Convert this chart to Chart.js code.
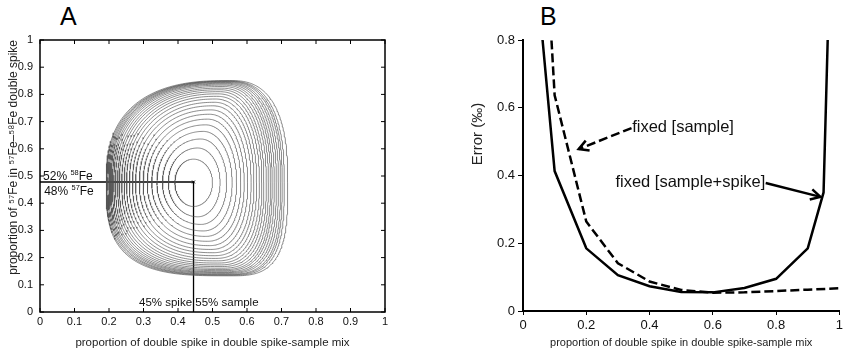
<!DOCTYPE html>
<html><head><meta charset="utf-8">
<script src="https://cdn.jsdelivr.net/npm/chart.js@4.4.1/dist/chart.umd.min.js"></script>
<style>
html,body{margin:0;padding:0;background:#fff;width:846px;height:355px;overflow:hidden}
#a{position:absolute;left:0;top:0}
#b{position:absolute;left:423px;top:0}
.lbl{position:absolute;font-family:"Liberation Sans",Arial,sans-serif;font-size:25px;line-height:1;color:#000}
</style></head><body>
<div class="lbl" style="left:60px;top:4px">A</div>
<div class="lbl" style="left:540px;top:4px">B</div>
<canvas id="a" width="423" height="355"></canvas>
<canvas id="b" width="423" height="355"></canvas>
<script>
const FONT = '"Liberation Sans", Arial, Helvetica, sans-serif';

// ---------- Panel A: contour extents (inner -> outer) ----------
const cLeft   = [0.391,0.372,0.355,0.339,0.324,0.311,0.299,0.288,0.277,0.268,0.259,0.251,0.244,0.237,0.230,0.225,0.219,0.214,0.210,0.206,0.203,0.200,0.197,0.194,0.192];
const cRight  = [0.500,0.522,0.541,0.557,0.570,0.582,0.592,0.602,0.612,0.620,0.628,0.636,0.643,0.649,0.656,0.662,0.668,0.673,0.679,0.685,0.691,0.697,0.702,0.708,0.718];
const cTop    = [0.562,0.603,0.636,0.664,0.688,0.709,0.727,0.743,0.758,0.771,0.783,0.793,0.802,0.810,0.817,0.823,0.829,0.834,0.838,0.841,0.844,0.846,0.848,0.849,0.851];
const cBottom = [0.388,0.350,0.322,0.298,0.278,0.260,0.244,0.230,0.218,0.207,0.197,0.188,0.180,0.173,0.167,0.161,0.156,0.152,0.148,0.145,0.142,0.139,0.137,0.135,0.133];
const cMidX   = [0.445,0.457,0.466,0.473,0.480,0.486,0.491,0.495,0.501,0.505,0.508,0.512,0.515,0.519,0.522,0.525,0.528,0.530,0.533,0.536,0.538,0.542,0.544,0.547,0.550];
const cSquareTop = [2.0,2.01,2.02,2.04,2.07,2.09,2.11,2.14,2.17,2.19,2.22,2.25,2.27,2.29,2.32,2.35,2.37,2.40,2.43,2.46,2.47,2.51,2.53,2.56,2.6];
const cSquareBot = [2.0,2.01,2.05,2.09,2.13,2.18,2.23,2.28,2.34,2.38,2.43,2.49,2.54,2.59,2.64,2.70,2.74,2.79,2.85,2.91,2.95,3.02,3.06,3.13,3.2];
const cMidY = 0.476;
const optimumX = 0.445, optimumY = 0.478;
const ticksA = [0,0.1,0.2,0.3,0.4,0.5,0.6,0.7,0.8,0.9,1];

// ---------- Panel B: error curves ----------
const mixSampleSpike = [0.05,0.1,0.2,0.3,0.4,0.5,0.6,0.7,0.8,0.9,0.95,0.97];
const errSampleSpike = [0.92,0.413,0.185,0.106,0.073,0.056,0.055,0.068,0.095,0.185,0.35,1.04];
const mixSample = [0.05,0.1,0.2,0.3,0.4,0.5,0.6,0.7,0.8,0.9,1.0];
const errSample = [1.45,0.637,0.264,0.141,0.087,0.062,0.054,0.055,0.059,0.063,0.067];

function contourPath(i){
  const pts=[]; const N=280;
  for(let k=0;k<=N;k++){
    const th=2*Math.PI*k/N, c=Math.cos(th), s=Math.sin(th);
    const n = s>=0 ? cSquareTop[i] : cSquareBot[i];
    const e = 2/n;
    const ax = c>=0 ? cRight[i]-cMidX[i] : cMidX[i]-cLeft[i];
    const by = s>=0 ? cTop[i]-cMidY : cMidY-cBottom[i];
    pts.push({x:cMidX[i]+ax*Math.sign(c)*Math.pow(Math.abs(c),e), y:cMidY+by*Math.sign(s)*Math.pow(Math.abs(s),e)});
  }
  return pts;
}
const fmt = v => { const r=Math.round(v*10)/10; return r===0?'0':(r===1?'1':r.toFixed(1)); };

const dsA = cLeft.map((_,i)=>({data:contourPath(i), showLine:true, borderColor:'#4d4d4d', borderWidth:0.65, pointRadius:0, tension:0}));
dsA.push({data:[{x:0,y:optimumY},{x:optimumX,y:optimumY},{x:optimumX,y:0}], showLine:true, borderColor:'#000', borderWidth:1.3, pointRadius:0, tension:0});
dsA.push({data:[{x:optimumX,y:optimumY}], showLine:false, pointStyle:'crossRot', pointRadius:2, borderColor:'#000', borderWidth:1});

function supText(ctx, x, y, parts, size){
  let cx=x;
  for(const [t,sup] of parts){
    ctx.font = (sup? (size*0.62):size)+'px '+FONT;
    ctx.fillText(t, cx, sup ? y-size*0.38 : y);
    cx += ctx.measureText(t).width;
  }
}

const plugA = {id:'pa', afterDatasetsDraw(chart){
  const {ctx, chartArea:{left,right,top,bottom}, scales:{x,y}} = chart;
  ctx.save();
  ctx.strokeStyle='#000'; ctx.lineWidth=1.5;
  ctx.strokeRect(left,top,right-left,bottom-top);
  ctx.lineWidth=1;
  ctx.beginPath();
  for(const v of ticksA){
    const px=x.getPixelForValue(v), py=y.getPixelForValue(v);
    ctx.moveTo(px,bottom); ctx.lineTo(px,bottom-4);
    ctx.moveTo(px,top); ctx.lineTo(px,top+4);
    ctx.moveTo(left,py); ctx.lineTo(left+4,py);
    ctx.moveTo(right,py); ctx.lineTo(right-4,py);
  }
  ctx.stroke();
  ctx.fillStyle='#111'; ctx.textBaseline='alphabetic'; ctx.textAlign='left';
  supText(ctx, x.getPixelForValue(0.009), y.getPixelForValue(0.487), [['52% ',false],['58',true],['Fe',false]], 12);
  supText(ctx, x.getPixelForValue(0.012), y.getPixelForValue(0.43), [['48% ',false],['57',true],['Fe',false]], 12);
  ctx.font='11.5px '+FONT;
  ctx.fillText('45% spike 55% sample', x.getPixelForValue(0.287), y.getPixelForValue(0.022));
  ctx.restore();
}};

new Chart(document.getElementById('a'), {
  type:'scatter',
  data:{datasets:dsA},
  options:{
    responsive:false, animation:false, events:[],
    layout:{padding:{top:40,right:38,left:0,bottom:0}},
    plugins:{legend:{display:false}, tooltip:{enabled:false}},
    scales:{
      x:{type:'linear', min:0, max:1,
        afterBuildTicks(s){ s.ticks = ticksA.map(v=>({value:v})); },
        ticks:{font:{size:11,family:FONT}, color:'#111', padding:3, maxRotation:0, autoSkip:false, callback:fmt},
        grid:{display:false, drawTicks:false}, border:{display:false},
        title:{display:true, text:'proportion of double spike in double spike-sample mix', font:{size:11.5,family:FONT}, color:'#222', padding:{top:0,bottom:5}},
        afterFit(s){ s.height=43; }},
      y:{type:'linear', min:0, max:1,
        afterBuildTicks(s){ s.ticks = ticksA.map(v=>({value:v})); },
        ticks:{font:{size:11,family:FONT}, color:'#111', padding:7, autoSkip:false, callback:fmt},
        grid:{display:false, drawTicks:false}, border:{display:false},
        title:{display:true, align:'end', text:'proportion of \u2075\u2077Fe in \u2075\u2077Fe\u2013\u2075\u2078Fe double spike', font:{size:12,family:FONT}, color:'#222', padding:{top:6,bottom:0}},
        afterFit(s){ s.width=40; }}
    }
  },
  plugins:[plugA]
});

// ---------- Panel B ----------
function arrow(ctx,x1,y1,x2,y2,dash){
  ctx.setLineDash(dash);
  ctx.beginPath(); ctx.moveTo(x1,y1); ctx.lineTo(x2,y2); ctx.stroke();
  ctx.setLineDash([]);
  const a=Math.atan2(y2-y1,x2-x1), L=11, w=0.5;
  ctx.beginPath();
  ctx.moveTo(x2-L*Math.cos(a-w), y2-L*Math.sin(a-w)); ctx.lineTo(x2,y2);
  ctx.lineTo(x2-L*Math.cos(a+w), y2-L*Math.sin(a+w)); ctx.stroke();
}
const plugB = {id:'pb', afterDatasetsDraw(chart){
  const {ctx, scales:{x,y}} = chart;
  ctx.save();
  ctx.strokeStyle='#000'; ctx.lineWidth=2.5; ctx.lineCap='butt';
  arrow(ctx, x.getPixelForValue(0.343), y.getPixelForValue(0.540), x.getPixelForValue(0.176), y.getPixelForValue(0.478), [9,4]);
  arrow(ctx, x.getPixelForValue(0.767), y.getPixelForValue(0.378), x.getPixelForValue(0.940), y.getPixelForValue(0.337), []);
  ctx.fillStyle='#111'; ctx.font='16.5px '+FONT; ctx.textBaseline='middle'; ctx.textAlign='left';
  ctx.fillText('fixed [sample]', x.getPixelForValue(0.345), y.getPixelForValue(0.543));
  ctx.fillText('fixed [sample+spike]', x.getPixelForValue(0.292), y.getPixelForValue(0.378));
  ctx.translate(55,134); ctx.rotate(-Math.PI/2);
  ctx.textAlign='center'; ctx.font='15px '+FONT; ctx.fillStyle='#222';
  ctx.fillText('Error (\u2030)', 0, 0);
  ctx.restore();
}};

new Chart(document.getElementById('b'), {
  type:'scatter',
  data:{datasets:[
    {data:mixSampleSpike.map((v,i)=>({x:v,y:errSampleSpike[i]})), showLine:true, borderColor:'#000', borderWidth:2.5, pointRadius:0, tension:0},
    {data:mixSample.map((v,i)=>({x:v,y:errSample[i]})), showLine:true, borderColor:'#000', borderWidth:2.5, borderDash:[9,4], pointRadius:0, tension:0}
  ]},
  options:{
    responsive:false, animation:false, events:[],
    layout:{padding:{top:40,right:5,left:0,bottom:0}},
    plugins:{legend:{display:false}, tooltip:{enabled:false}},
    scales:{
      x:{type:'linear', min:0, max:1,
        ticks:{stepSize:0.2, font:{size:13,family:FONT}, color:'#111', padding:3, maxRotation:0, callback:fmt},
        grid:{display:true, drawOnChartArea:false, drawTicks:true, tickLength:4, color:'#000', lineWidth:1},
        border:{display:true, color:'#000', width:2},
        title:{display:true, text:'proportion of double spike in double spike-sample mix', font:{size:11,family:FONT}, color:'#222', padding:{top:0,bottom:5}},
        afterFit(s){ s.height=44; }},
      y:{type:'linear', min:0, max:0.8,
        ticks:{stepSize:0.2, font:{size:13,family:FONT}, color:'#111', padding:3, callback:fmt},
        grid:{display:true, drawOnChartArea:false, drawTicks:true, tickLength:5, color:'#000', lineWidth:1},
        border:{display:true, color:'#000', width:2},
        afterFit(s){ s.width=100; }}
    }
  },
  plugins:[plugB]
});
</script>
</body></html>
